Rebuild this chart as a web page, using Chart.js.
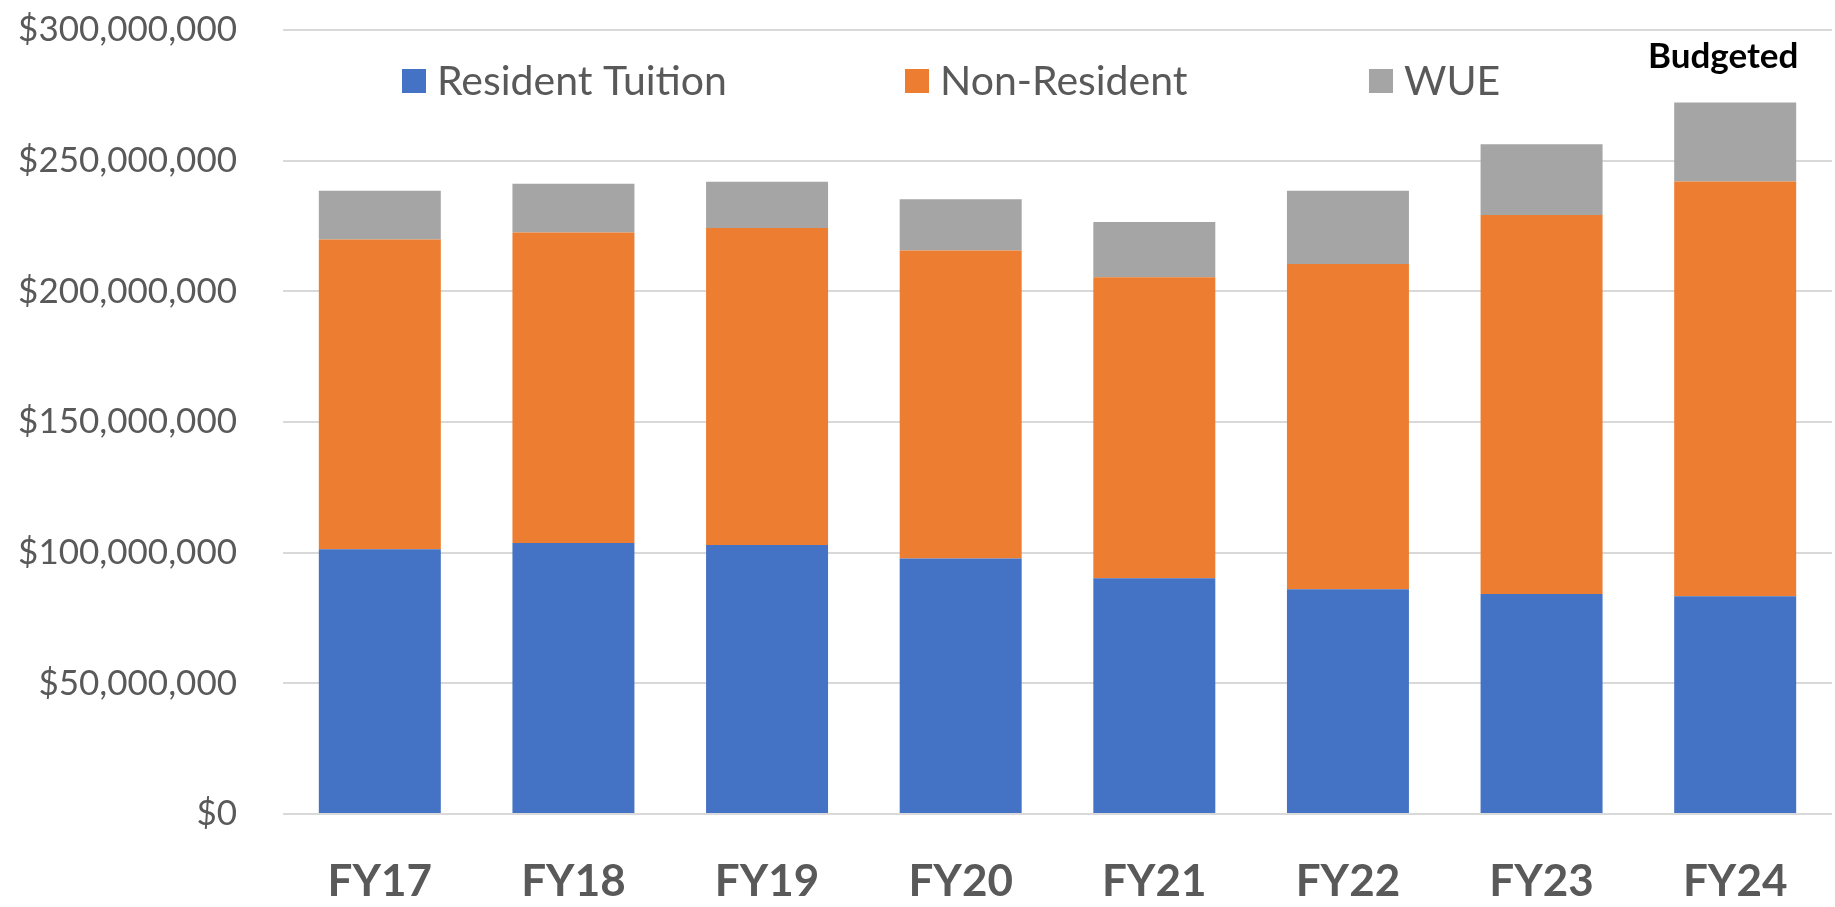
<!DOCTYPE html>
<html>
<head>
<meta charset="utf-8">
<title>Tuition Revenue</title>
<script src="https://cdn.jsdelivr.net/npm/chart.js@4.4.1/dist/chart.umd.min.js"></script>
<style>
  html, body { margin: 0; padding: 0; background: #ffffff; }
  #wrap { width: 1835px; height: 907px; position: relative; }
</style>
</head>
<body>
<div id="wrap"><canvas id="tuitionChart"></canvas></div>
<script>
// Chart data
const categories = ["FY17", "FY18", "FY19", "FY20", "FY21", "FY22", "FY23", "FY24"];
const seriesNames = ["Resident Tuition", "Non-Resident", "WUE"];
const residentTuition = [101300000, 103700000, 102900000, 97800000, 90200000, 86000000, 84200000, 83300000];
const nonResident = [118500000, 118800000, 121300000, 117800000, 115200000, 124500000, 145000000, 158700000];
const wue = [18700000, 18700000, 17700000, 19600000, 21100000, 28000000, 27100000, 30300000];
const yTickMax = 300000000;
const yTickStep = 50000000;
const noteLabel = "Budgeted";
const noteCategory = "FY24";

const colors = ["#4472C4", "#ED7D31", "#A5A5A5"];
const textGray = "#595959";
const fontFamily = "Lato, 'Open Sans', sans-serif";

// Legend drawn inside the plot area, like the Excel original
const insideLegend = {
  id: "insideLegend",
  afterDraw(chart) {
    const ctx = chart.ctx;
    const starts = [402, 905, 1369];
    ctx.save();
    ctx.font = "41px " + fontFamily;
    ctx.textBaseline = "middle";
    ctx.textAlign = "left";
    chart.data.datasets.forEach(function (ds, i) {
      ctx.fillStyle = ds.backgroundColor;
      ctx.fillRect(starts[i], 69, 24, 24);
      ctx.fillStyle = textGray;
      ctx.fillText(ds.label, starts[i] + 35, 82);
    });
    ctx.restore();
  },
};

// "Budgeted" note over the last bar
const budgetNote = {
  id: "budgetNote",
  afterDraw(chart) {
    const ctx = chart.ctx;
    const x = chart.scales.x.getPixelForValue(categories.indexOf(noteCategory));
    ctx.save();
    ctx.font = "bold 35px " + fontFamily;
    ctx.fillStyle = "#000000";
    ctx.textAlign = "center";
    ctx.textBaseline = "alphabetic";
    ctx.fillText(noteLabel, x - 12, chart.chartArea.top + 38);
    ctx.restore();
  },
};

const chart = new Chart(document.getElementById("tuitionChart").getContext("2d"), {
  type: "bar",
  data: {
    labels: categories,
    datasets: [
      { label: seriesNames[0], data: residentTuition, backgroundColor: colors[0] },
      { label: seriesNames[1], data: nonResident, backgroundColor: colors[1] },
      { label: seriesNames[2], data: wue, backgroundColor: colors[2] },
    ],
  },
  options: {
    responsive: true,
    maintainAspectRatio: false,
    animation: false,
    layout: { padding: { top: 30, right: 3, bottom: 0, left: 0 } },
    datasets: {
      bar: { categoryPercentage: 1.0, barPercentage: 0.63, borderWidth: 0 },
    },
    plugins: {
      legend: { display: false },
      tooltip: { enabled: false },
    },
    scales: {
      x: {
        stacked: true,
        grid: { display: false, drawTicks: false },
        border: { display: false },
        ticks: {
          color: textGray,
          font: { family: fontFamily, size: 44, weight: "bold" },
          padding: 41,
        },
        afterFit(scale) {
          scale.height = 93;
        },
      },
      y: {
        stacked: true,
        min: 0,
        max: yTickMax,
        grid: { color: "#D9D9D9", lineWidth: 2, drawTicks: false },
        border: { display: false },
        ticks: {
          stepSize: yTickStep,
          color: textGray,
          font: { family: fontFamily, size: 35 },
          padding: 46,
          callback: function (value) {
            return "$" + value.toLocaleString("en-US");
          },
        },
        afterFit(scale) {
          scale.width = 283;
          // keep the plot top on the padding line, labels may overhang
          scale.paddingTop = 0;
          scale.paddingBottom = 0;
        },
      },
    },
  },
  plugins: [insideLegend, budgetNote],
});
</script>
</body>
</html>
